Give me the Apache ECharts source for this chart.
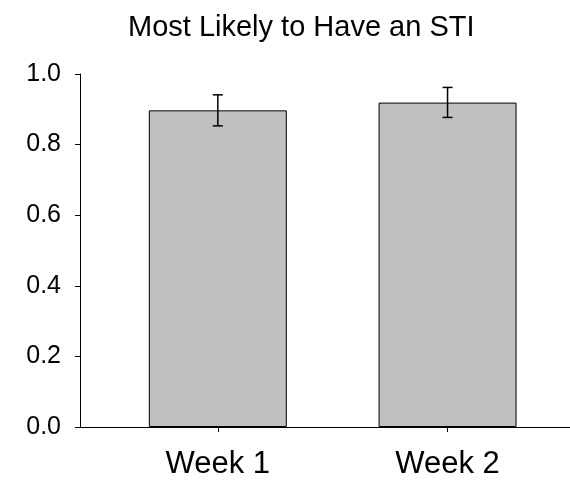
<!DOCTYPE html>
<html>
<head>
<meta charset="utf-8">
<script src="https://cdn.jsdelivr.net/npm/echarts@6/dist/echarts.min.js"></script>
<style>
  html, body { margin: 0; padding: 0; background: #fff; }
  #chart { width: 570px; height: 480px; }
</style>
</head>
<body>
<div id="chart"></div>
<script>
// Proportion of participants per week, with error bar limits
var categories = ['Week 1', 'Week 2'];
var means = [0.897, 0.919];
var errLower = [0.853, 0.877];
var errUpper = [0.941, 0.962];

var FONT = '"Liberation Sans", Arial, sans-serif';

// Each category sits at position 1, 2, ... on a numeric x axis
var positions = categories.map(function (c, i) { return i + 1; });
var barData = positions.map(function (p, i) { return [p, means[i]]; });
var errData = positions.map(function (p, i) { return [p, errLower[i], errUpper[i]]; });

var chart = echarts.init(document.getElementById('chart'), null, { renderer: 'canvas' });

chart.setOption({
  animation: false,
  backgroundColor: '#ffffff',
  title: {
    text: 'Most Likely to Have an STI',
    left: 123,
    top: 8,
    textStyle: { fontFamily: FONT, fontSize: 29, fontWeight: 'normal', color: '#000' }
  },
  grid: { left: 80, right: 0, top: 74, bottom: 52, containLabel: false },
  xAxis: {
    type: 'value',
    min: 0.4,
    max: 2.533,
    axisLine: { show: true, onZero: false, lineStyle: { color: '#000', width: 1 } },
    axisTick: {
      show: true, length: 5, inside: false,
      customValues: positions,
      lineStyle: { color: '#000', width: 1 }
    },
    axisLabel: {
      customValues: positions,
      margin: 22,
      fontFamily: FONT, fontSize: 31, color: '#000',
      formatter: function (v) { return categories[Math.round(v) - 1] || ''; }
    },
    splitLine: { show: false }
  },
  yAxis: {
    type: 'value',
    min: 0,
    max: 1,
    interval: 0.2,
    axisLine: { show: true, lineStyle: { color: '#000', width: 1 } },
    axisTick: { show: true, length: 5, inside: false, lineStyle: { color: '#000', width: 1 } },
    axisLabel: {
      margin: 19,
      fontFamily: FONT, fontSize: 25, color: '#000',
      formatter: function (v) { return v.toFixed(1); }
    },
    splitLine: { show: false }
  },
  series: [
    {
      type: 'bar',
      data: barData,
      barWidth: 138,
      itemStyle: { color: '#c0c0c0', borderColor: '#000', borderWidth: 1 },
      z: 2
    },
    {
      type: 'custom',
      data: errData,
      z: 5,
      renderItem: function (params, api) {
        var x = api.value(0);
        var lo = api.coord([x, api.value(1)]);
        var hi = api.coord([x, api.value(2)]);
        var half = 5;
        var style = { stroke: '#000', lineWidth: 1.5 };
        return {
          type: 'group',
          children: [
            { type: 'line', shape: { x1: hi[0], y1: hi[1], x2: lo[0], y2: lo[1] }, style: style },
            { type: 'line', shape: { x1: hi[0] - half, y1: hi[1], x2: hi[0] + half, y2: hi[1] }, style: style },
            { type: 'line', shape: { x1: lo[0] - half, y1: lo[1], x2: lo[0] + half, y2: lo[1] }, style: style }
          ]
        };
      }
    }
  ]
});
</script>
</body>
</html>
